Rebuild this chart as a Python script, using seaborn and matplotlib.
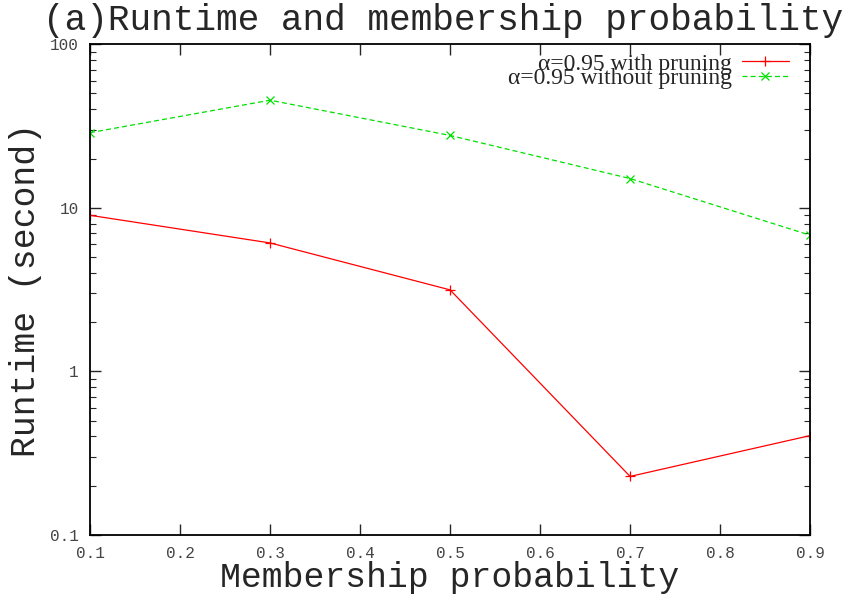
import matplotlib
matplotlib.use("Agg")
import matplotlib.pyplot as plt
import seaborn as sns
import pandas as pd
import numpy as np
from matplotlib.ticker import FixedLocator, LogLocator, NullFormatter

prob = [0.1, 0.3, 0.5, 0.7, 0.9]
with_pruning = [9.0, 6.1, 3.15, 0.228, 0.405]
without_pruning = [28.8, 45.5, 27.7, 15.1, 6.8]
labels = ["α=0.95 with pruning", "α=0.95 without pruning"]
xticks = [0.1, 0.2, 0.3, 0.4, 0.5, 0.6, 0.7, 0.8, 0.9]
yticks = [0.1, 1, 10, 100]
ytick_labels = ["0.1", "1", "10", "100"]

sns.set_style("ticks")
plt.rcParams["font.family"] = ["Liberation Mono", "DejaVu Sans Mono"]

df = pd.DataFrame({
    "prob": prob * 2,
    "runtime": with_pruning + without_pruning,
    "series": [labels[0]] * len(prob) + [labels[1]] * len(prob),
})

fig = plt.figure(figsize=(8.43, 5.98), dpi=100)
ax = fig.add_axes([0.1068, 0.1054, 0.8542, 0.8206])

d0 = df[df.series == labels[0]]
d1 = df[df.series == labels[1]]
sns.lineplot(data=d0, x="prob", y="runtime", ax=ax, color="#ff0000", lw=0.9,
             marker="+", markersize=7, markeredgewidth=0.9,
             markeredgecolor="#ff0000", label=labels[0])
sns.lineplot(data=d1, x="prob", y="runtime", ax=ax, color="#00e000", lw=0.9,
             marker="x", markersize=6, markeredgewidth=0.9,
             markeredgecolor="#00e000", linestyle=(0, (4, 2.5)),
             label=labels[1])

ax.set_yscale("log")
ax.set_xlim(0.1, 0.9)
ax.set_ylim(0.1, 100)
ax.xaxis.set_major_locator(FixedLocator(xticks))
ax.set_xticklabels([f"{v:.1f}" for v in xticks])
ax.yaxis.set_major_locator(FixedLocator(yticks))
ax.set_yticklabels(ytick_labels)
ax.yaxis.set_minor_locator(LogLocator(base=10, subs=np.arange(2, 10)))
ax.yaxis.set_minor_formatter(NullFormatter())

ax.tick_params(which="major", direction="in", length=8, width=1.0,
               top=True, right=True, labelsize=11.5, labelcolor="#444444", pad=8)
ax.tick_params(which="minor", direction="in", length=4, width=0.8,
               top=True, right=True)
for s in ax.spines.values():
    s.set_linewidth(1.3)
    s.set_color("black")

ax.set_xlabel("Membership probability", fontsize=25, labelpad=0)
ax.set_ylabel("Runtime (second)", fontsize=25, labelpad=6)
ax.set_title("(a)Runtime and membership probability", fontsize=26, pad=10, x=0.49)

leg = ax.legend(loc="upper right", bbox_to_anchor=(1.0, 1.025),
                markerfirst=False, frameon=False,
                prop={"family": "Liberation Serif", "size": 17},
                handlelength=2.0, handletextpad=0.4, labelspacing=-0.3,
                borderaxespad=0.7, borderpad=0.2)

fig.savefig("out.png", dpi=100)
